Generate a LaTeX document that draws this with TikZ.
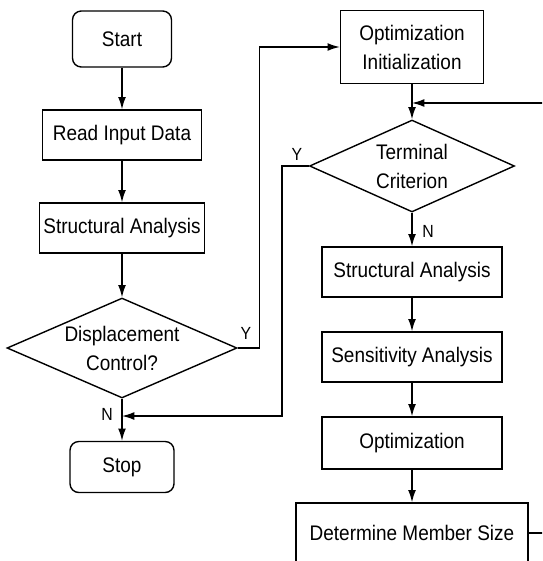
\documentclass[tikz,border=0pt]{standalone}
\usepackage{fontspec}
\setmainfont{Liberation Sans}[FakeStretch=0.9]
\usetikzlibrary{shapes.geometric,arrows.meta}

\tikzset{
  flow/.style={line width=0.8pt},
  txt/.style={font=\fontsize{12}{16.5}\selectfont, align=center},
  box/.style={flow, txt, draw, inner sep=1pt},
  term/.style={box, rounded corners=5pt},
  decision/.style={box, diamond, inner sep=0pt, aspect=#1},
  yn/.style={font=\fontsize{10}{12}\selectfont, inner sep=1pt},
}

\begin{document}
\begin{tikzpicture}[x=0.02cm, y=-0.02cm, >={Latex[length=7pt,width=4.5pt]}]
	\useasboundingbox (0,0) rectangle (542,561);
	\clip (0,0) rectangle (542,561);

	% left column
	\node[term, minimum width=1.98cm, minimum height=1.12cm] (start) at (122,39) {Start};
	\node[box, minimum width=3.18cm, minimum height=1cm] (read) at (122,135) {Read Input Data};
	\node[box, minimum width=3.3cm, minimum height=1cm] (sa1) at (122,228) {Structural Analysis};
	\node[decision=2.3, minimum width=4.6cm, minimum height=2cm] (disp) at (122,348) {Displacement\\Control?};
	\node[term, minimum width=2.08cm, minimum height=1.02cm] (stop) at (122,467) {Stop};

	% right column
	\node[box, minimum width=2.86cm, minimum height=1.46cm] (init) at (412,47) {Optimization\\Initialization};
	\node[decision=2.23, minimum width=4.1cm, minimum height=1.84cm] (crit) at (412,166) {Terminal\\Criterion};
	\node[box, minimum width=3.6cm, minimum height=1cm] (sa2) at (412,272) {Structural Analysis};
	\node[box, minimum width=3.6cm, minimum height=1cm] (sens) at (412,357) {Sensitivity Analysis};
	\node[box, minimum width=3.6cm, minimum height=1.04cm] (opt) at (412,443) {Optimization};
	\node[box, minimum width=4.64cm, minimum height=1.2cm] (size) at (412,533) {Determine Member Size};

	% bends and joins
	\coordinate (join1) at (412,103);
	\coordinate (join2) at (122,416);
	\coordinate (loop) at (560,103);

	\draw[flow, ->] (start) -- (read);
	\draw[flow, ->] (read) -- (sa1);
	\draw[flow, ->] (sa1) -- (disp);
	\draw[flow, ->] (disp) -- (stop);

	\draw[flow, ->] (disp.east) -- ++(22,0) |- (init.west);
	\draw[flow, ->] (init) -- (crit);
	\draw[flow, ->] (crit) -- (sa2);
	\draw[flow, ->] (sa2) -- (sens);
	\draw[flow, ->] (sens) -- (opt);
	\draw[flow, ->] (opt) -- (size);

	% feedback lines
	\draw[flow, ->] (crit.west) -- ++(-27,0) |- (join2);
	\draw[flow, ->] (size.east) -| (loop) -- (join1);

	% labels
	\node[yn] (y1) at (246,333) {Y};
	\node[yn] (n1) at (107,414) {N};
	\node[yn] (y2) at (297,154) {Y};
	\node[yn] (n2) at (428,231) {N};
\end{tikzpicture}
\end{document}
